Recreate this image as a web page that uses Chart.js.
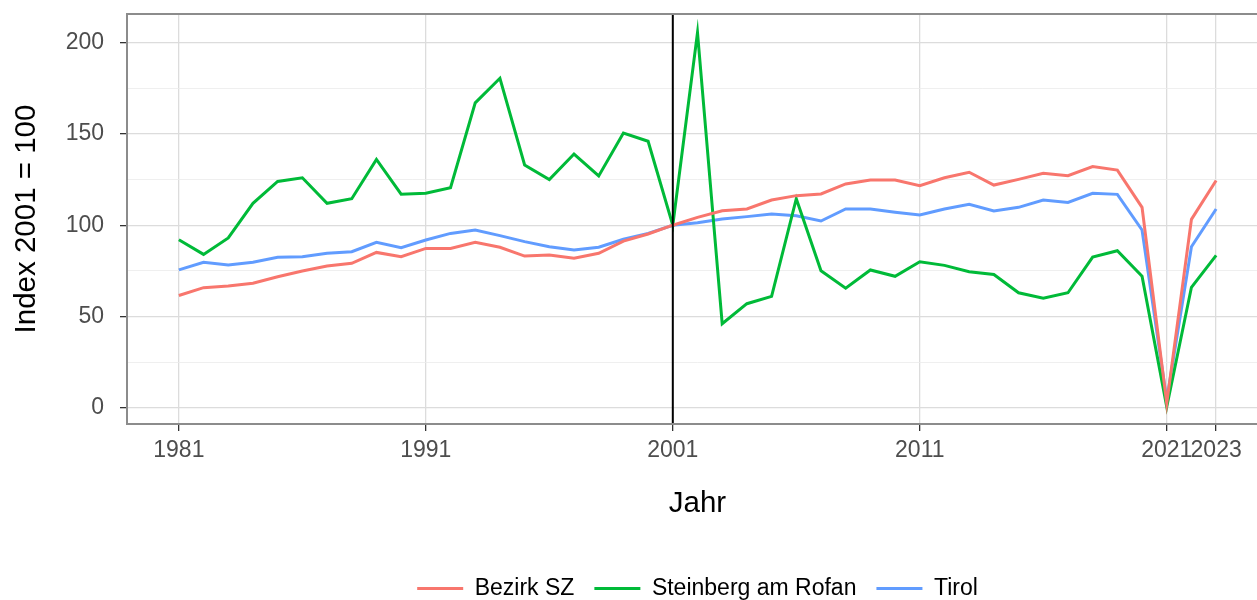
<!DOCTYPE html>
<html>
<head>
<meta charset="utf-8">
<script src="https://cdn.jsdelivr.net/npm/chart.js@4"></script>
<style>
  html, body { margin: 0; padding: 0; overflow: hidden; background: #fff; }
  #wrap { width: 1271px; height: 610px; }
</style>
</head>
<body>
<div id="wrap"><canvas id="chart" width="1271" height="610"></canvas></div>
<script>
// data (index, 2001 = 100)

const years = [1981, 1982, 1983, 1984, 1985, 1986, 1987, 1988, 1989, 1990,
               1991, 1992, 1993, 1994, 1995, 1996, 1997, 1998, 1999, 2000,
               2001, 2002, 2003, 2004, 2005, 2006, 2007, 2008, 2009, 2010,
               2011, 2012, 2013, 2014, 2015, 2016, 2017, 2018, 2019, 2020,
               2021, 2022, 2023];

const bezirkSZ = [61.5, 65.8, 66.7, 68.2, 71.8, 74.9, 77.6, 79.1, 85.1, 82.7,
                  87.3, 87.3, 90.6, 87.9, 83.1, 83.7, 81.9, 84.6, 91.3, 95.2,
                  100, 104.3, 107.9, 108.9, 113.8, 116.2, 117.1, 122.6, 124.8, 124.8,
                  121.6, 126, 129, 122, 125.1, 128.4, 127.1, 132.1, 130.2, 109.8,
                  2.4, 103.2, 124.5];

const steinberg = [92, 84, 93, 112, 124, 126, 112, 114.5, 136, 117,
                   117.5, 120.5, 167, 180.5, 133, 125, 139, 127, 150.5, 146,
                   100, 205.5, 46, 57, 61, 114.5, 75, 65.5, 75.5, 72,
                   80, 78, 74.5, 73, 63, 60, 63, 82.5, 86, 72,
                   0.5, 66, 83.5];

const tirol = [75.5, 79.7, 78.2, 79.7, 82.4, 82.7, 84.6, 85.5, 90.6, 87.7,
               91.9, 95.5, 97.4, 94.3, 91, 88.2, 86.4, 87.9, 92.3, 95.5,
               100, 101.4, 103.4, 104.7, 106.1, 105.2, 102.3, 108.9, 108.9, 107.1,
               105.6, 108.9, 111.5, 107.8, 109.8, 113.8, 112.5, 117.5, 116.9, 97.4,
               4.2, 88.2, 108.9];

const xTickYears = [1981, 1991, 2001, 2011, 2021, 2023];
const yTickValues = [0, 25, 50, 75, 100, 125, 150, 175, 200];
const refYear = 2001;

const FONT = 'Liberation Sans, Arial, sans-serif';

function points(vals) {
  return years.map((yr, i) => ({ x: yr, y: vals[i] }));
}

// vertical line at the reference year + grey panel border
const panelPlugin = {
  id: 'panel',
  afterDatasetsDraw(chart) {
    const { ctx, chartArea: a, scales: { x } } = chart;
    const xv = x.getPixelForValue(refYear);
    ctx.save();
    ctx.strokeStyle = '#000';
    ctx.lineWidth = 2;
    ctx.beginPath();
    ctx.moveTo(xv, a.top);
    ctx.lineTo(xv, a.bottom);
    ctx.stroke();
    ctx.strokeStyle = '#8c8c8c';
    ctx.lineWidth = 2;
    ctx.strokeRect(a.left, a.top, a.right - a.left, a.bottom - a.top);
    ctx.restore();
  }
};

const isMajor = v => v % 50 === 0;

new Chart(document.getElementById('chart'), {
  type: 'line',
  data: {
    datasets: [
      { label: 'Bezirk SZ', data: points(bezirkSZ), borderColor: '#F8766D', backgroundColor: '#F8766D' },
      { label: 'Steinberg am Rofan', data: points(steinberg), borderColor: '#00BA38', backgroundColor: '#00BA38' },
      { label: 'Tirol', data: points(tirol), borderColor: '#619CFF', backgroundColor: '#619CFF' }
    ]
  },
  options: {
    responsive: false,
    animation: false,
    datasets: { line: { borderWidth: 3, pointRadius: 0, tension: 0 } },
    layout: { padding: { top: 14, right: 3, bottom: 0, left: 0 } },
    scales: {
      x: {
        type: 'linear',
        min: 1978.9,
        max: 2025.1,
        afterBuildTicks: s => { s.ticks = xTickYears.map(v => ({ value: v })); },
        afterFit: s => { s.height = 133; },
        border: { display: false },
        grid: { color: '#dcdcdc', lineWidth: 1.3, tickColor: '#333', tickLength: 7 },
        ticks: {
          autoSkip: false, maxRotation: 0, padding: 6,
          color: '#4d4d4d', font: { family: FONT, size: 23 },
          callback: v => String(v)
        },
        title: {
          display: true, text: 'Jahr', color: '#000',
          font: { family: FONT, size: 29.5 },
          padding: { top: 0, bottom: 35 }
        }
      },
      y: {
        min: -8.9,
        max: 215.7,
        afterBuildTicks: s => { s.ticks = yTickValues.map(v => ({ value: v })); },
        afterFit: s => { s.width = 127; s.paddingTop = 0; s.paddingBottom = 0; },
        border: { display: false },
        grid: {
          color: c => isMajor(c.tick.value) ? '#dcdcdc' : '#ebebeb',
          lineWidth: c => isMajor(c.tick.value) ? 1.3 : 0.8,
          tickColor: c => isMajor(c.tick.value) ? '#333' : 'rgba(0,0,0,0)',
          tickLength: 7
        },
        ticks: {
          padding: 16,
          color: '#4d4d4d', font: { family: FONT, size: 23 },
          callback: v => isMajor(v) ? String(v) : ''
        },
        title: {
          display: true, text: 'Index 2001 = 100', color: '#000',
          font: { family: FONT, size: 29.5 },
          padding: { top: 9, bottom: 0 }
        }
      }
    },
    plugins: {
      tooltip: { enabled: false },
      legend: {
        position: 'bottom',
        fullSize: false,
        labels: {
          usePointStyle: true,
          pointStyle: 'line',
          pointStyleWidth: 46,
          padding: 20,
          color: '#000',
          font: { family: FONT, size: 23 }
        }
      }
    }
  },
  plugins: [panelPlugin]
});
</script>
</body>
</html>
